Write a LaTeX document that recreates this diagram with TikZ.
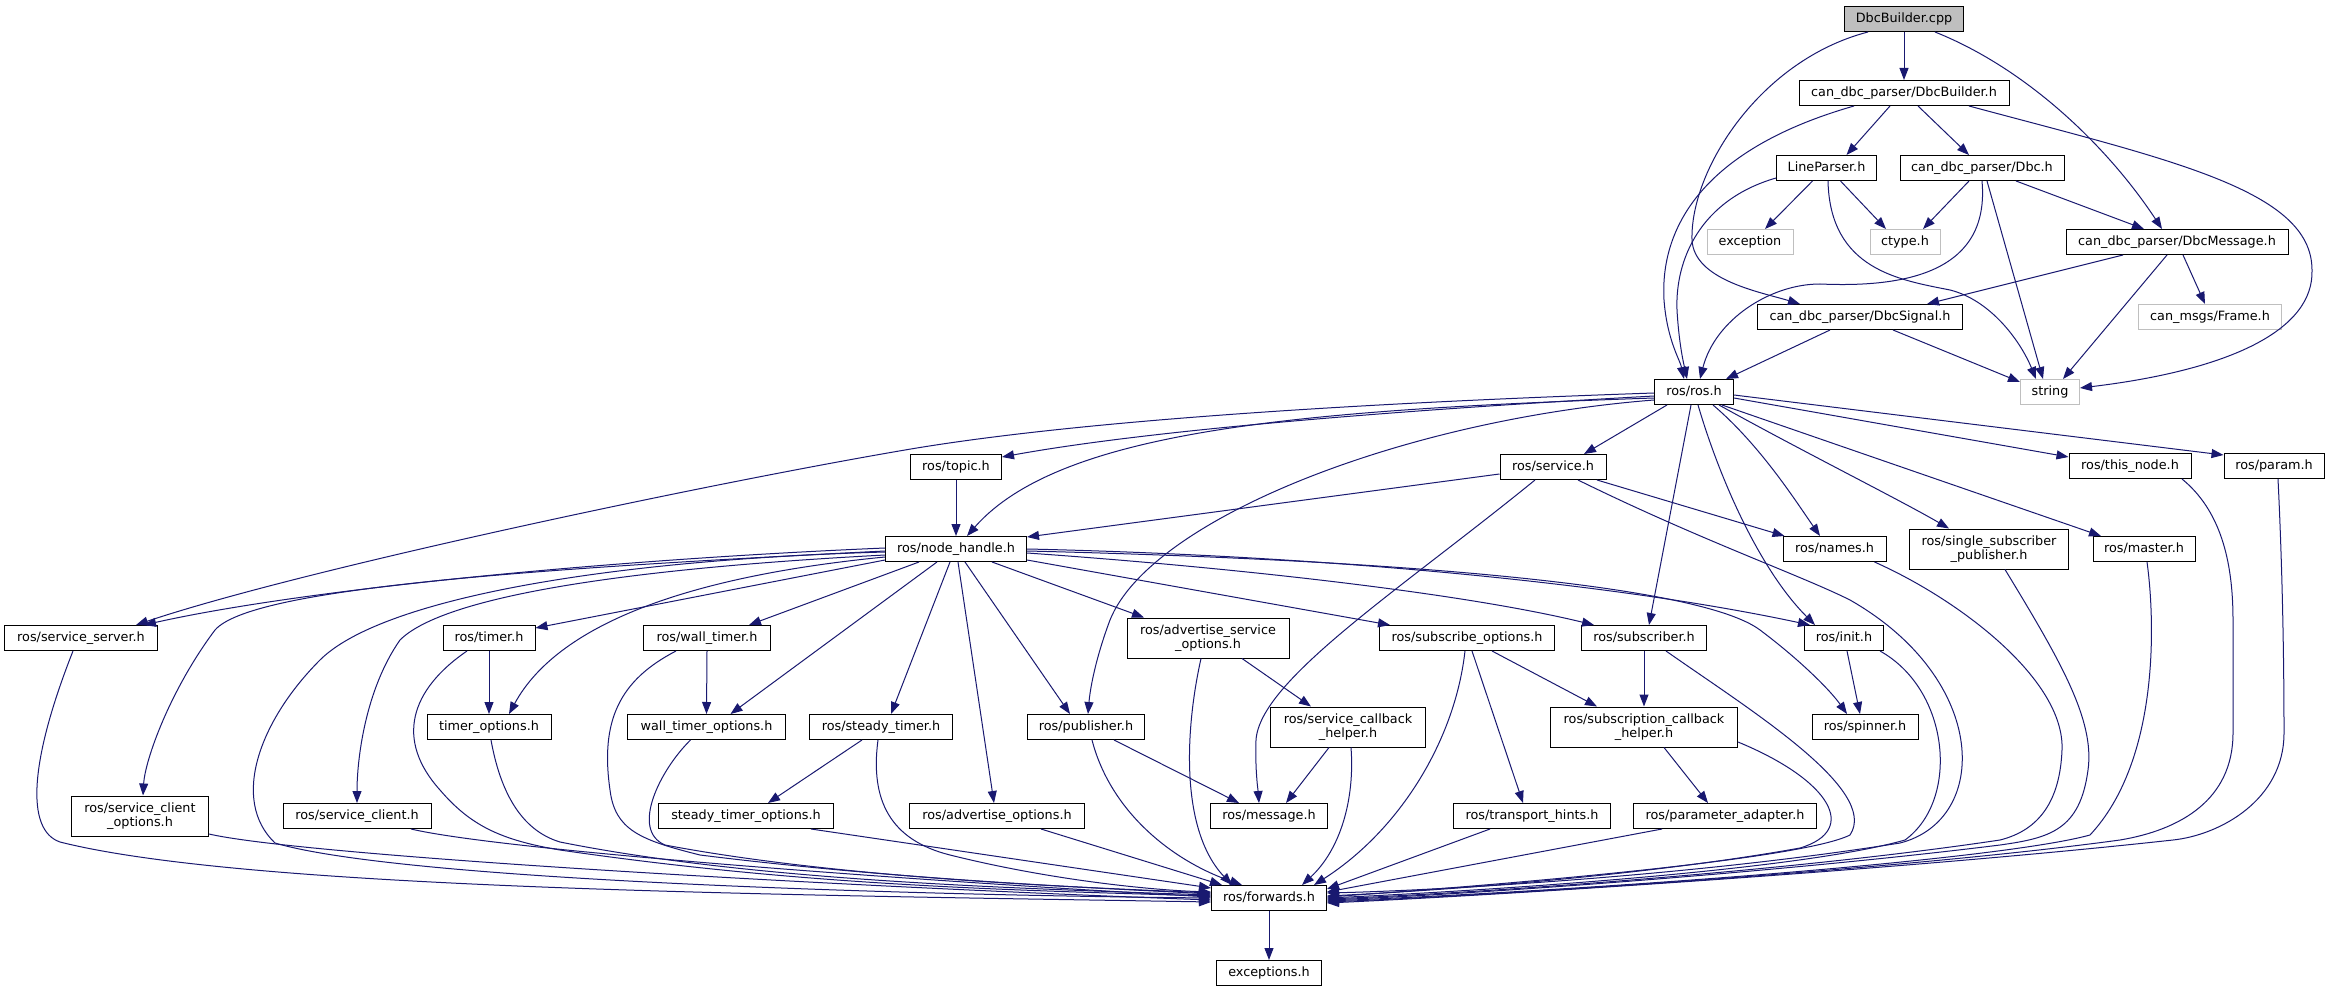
\documentclass[tikz,border=0pt]{standalone}
\usepackage{fontspec}
\setmainfont{DejaVu Sans}
\usetikzlibrary{arrows.meta}
\definecolor{edgec}{HTML}{191970}
\definecolor{graybd}{HTML}{BFBFBF}
\definecolor{cppfill}{HTML}{BFBFBF}
\newcommand{\nf}{\fontsize{12.8pt}{14.7pt}\selectfont}
\begin{document}
\begin{tikzpicture}[x=1pt,y=-1pt,
  base/.style={draw=black, line width=1pt, fill=white, inner sep=0pt, font=\nf},
  one/.style={base, minimum height=25pt, text height=9.6pt, text depth=2.6pt},
  two/.style={base, minimum height=40pt, align=center},
  grey/.style={one, draw=graybd},
  e/.style={draw=edgec, line width=1pt, -{Triangle[length=12pt,width=9pt]}}
]
\fill[white] (0,0) rectangle (2330,992);
\useasboundingbox (0,0) rectangle (2330,992);

% nodes
\node[one, fill=cppfill, minimum width=119pt] (cpp) at (1904,19) {DbcBuilder.cpp};
\node[one, minimum width=210pt] (dbh) at (1904,93) {can\_dbc\_parser/DbcBuilder.h};
\node[one, minimum width=100pt] (lp) at (1826.5,168) {LineParser.h};
\node[one, minimum width=164pt] (dbc) at (1982,168) {can\_dbc\_parser/Dbc.h};
\node[grey, minimum width=86pt] (exc) at (1750,242) {exception};
\node[grey, minimum width=70pt] (ctype) at (1905,242) {ctype.h};
\node[one, minimum width=222pt] (msg) at (2177,242) {can\_dbc\_parser/DbcMessage.h};
\node[one, minimum width=205pt] (sig) at (1860,317) {can\_dbc\_parser/DbcSignal.h};
\node[grey, minimum width=143pt] (frame) at (2210,317) {can\_msgs/Frame.h};
\node[grey, minimum width=59pt] (str) at (2050,392) {string};
\node[one, minimum width=79pt] (ros) at (1694,392) {ros/ros.h};
\node[one, minimum width=91pt] (topic) at (956,467) {ros/topic.h};
\node[one, minimum width=106pt] (service) at (1553,467) {ros/service.h};
\node[one, minimum width=122pt] (thisnode) at (2130,466) {ros/this\_node.h};
\node[one, minimum width=100pt] (param) at (2274,466) {ros/param.h};
\node[one, minimum width=141pt] (nh) at (956,549) {ros/node\_handle.h};
\node[one, minimum width=103pt] (names) at (1834.5,549) {ros/names.h};
\node[two, minimum width=159pt] (ssp) at (1989,549) {ros/single\_subscriber\\\_publisher.h};
\node[one, minimum width=102pt] (master) at (2144,549) {ros/master.h};
\node[one, minimum width=153pt] (ss) at (81,638) {ros/service\_server.h};
\node[one, minimum width=92pt] (timer) at (489,638) {ros/timer.h};
\node[one, minimum width=127pt] (wt) at (707,638) {ros/wall\_timer.h};
\node[two, minimum width=162pt] (aso) at (1208,638) {ros/advertise\_service\\\_options.h};
\node[one, minimum width=175pt] (so) at (1467,638) {ros/subscribe\_options.h};
\node[one, minimum width=125pt] (sub) at (1644,638) {ros/subscriber.h};
\node[one, minimum width=79pt] (init) at (1844,638) {ros/init.h};
\node[one, minimum width=124pt] (to) at (489,727) {timer\_options.h};
\node[one, minimum width=158pt] (wto) at (706.5,727) {wall\_timer\_options.h};
\node[one, minimum width=143pt] (st) at (881,727) {ros/steady\_timer.h};
\node[one, minimum width=117pt] (pub) at (1086,727) {ros/publisher.h};
\node[two, minimum width=155pt] (sch) at (1348,727) {ros/service\_callback\\\_helper.h};
\node[two, minimum width=187pt] (sbch) at (1644,727) {ros/subscription\_callback\\\_helper.h};
\node[one, minimum width=106pt] (spin) at (1865,727) {ros/spinner.h};
\node[two, minimum width=137pt] (sco) at (140,816) {ros/service\_client\\\_options.h};
\node[one, minimum width=148pt] (sc) at (357,816) {ros/service\_client.h};
\node[one, minimum width=175pt] (sto) at (746,816) {steady\_timer\_options.h};
\node[one, minimum width=175pt] (ao) at (997,816) {ros/advertise\_options.h};
\node[one, minimum width=117pt] (message) at (1269,816) {ros/message.h};
\node[one, minimum width=157pt] (th) at (1532,816) {ros/transport\_hints.h};
\node[one, minimum width=183pt] (pa) at (1725,816) {ros/parameter\_adapter.h};
\node[one, minimum width=115pt] (fwd) at (1269,898) {ros/forwards.h};
\node[one, minimum width=105pt] (exs) at (1269,973) {exceptions.h};

% top part
\draw[e] (cpp.south) -- (dbh.north);
\draw[e] ([xshift=-36]cpp.south) .. controls (1760,60) and (1690,170) .. (1692,240) .. controls (1694,280) and (1760,292) .. ([xshift=-60]sig.north);
\draw[e] ([xshift=31]cpp.south) .. controls (2030,70) and (2110,150) .. ([xshift=-15]msg.north);
\draw[e] ([xshift=-14]dbh.south) -- ([xshift=20]lp.north);
\draw[e] ([xshift=14]dbh.south) -- ([xshift=-13]dbc.north);
\draw[e] ([xshift=-50]dbh.south) .. controls (1700,150) and (1660,230) .. (1664,300) .. controls (1667,340) and (1680,360) .. ([xshift=-10]ros.north);
\draw[e] ([xshift=65]dbh.south) .. controls (2170,160) and (2312,190) .. (2312,270) .. controls (2314,330) and (2230,370) .. ([yshift=4]str.east);
\draw[e] ([xshift=-14]lp.south) -- ([xshift=15]exc.north);
\draw[e] ([xshift=14]lp.south) -- ([xshift=-19]ctype.north);
\draw[e] ([yshift=-10]lp.west) .. controls (1700,200) and (1675,260) .. (1677,310) .. controls (1679,345) and (1684,365) .. ([xshift=-7]ros.north);
\draw[e] ([xshift=1.5]lp.south) .. controls (1830,270) and (1900,280) .. (1950,290) .. controls (1990,300) and (2020,340) .. ([xshift=-14]str.north);
\draw[e] ([xshift=-13]dbc.south) -- ([xshift=18]ctype.north);
\draw[e] ([xshift=34]dbc.south) -- ([xshift=-33]msg.north);
\draw[e] (dbc.south) .. controls (1990,270) and (1910,288) .. (1820,284) .. controls (1770,284) and (1715,320) .. ([xshift=6]ros.north);
\draw[e] ([xshift=5]dbc.south) -- ([xshift=-7]str.north);
\draw[e] ([xshift=-54]msg.south) -- ([xshift=67]sig.north);
\draw[e] ([xshift=-10]msg.south) -- ([xshift=13]str.north);
\draw[e] ([xshift=6]msg.south) -- ([xshift=-5]frame.north);
\draw[e] ([xshift=-30]sig.south) -- ([xshift=32]ros.north);
\draw[e] ([xshift=33]sig.south) -- ([yshift=10]str.west);

% ros/ros.h
\draw[e] ([yshift=-4]ros.west) .. controls (1400,410) and (1150,430) .. ([yshift=10]topic.east);
\draw[e] ([yshift=-6]ros.west) .. controls (1300,410) and (1060,430) .. ([xshift=11]nh.north);
\draw[e] ([yshift=-1]ros.west) .. controls (1300,405) and (1050,425) .. (905,450) .. controls (700,485) and (300,570) .. ([xshift=55]ss.north);
\draw[e] ([xshift=-27]ros.south) -- ([xshift=31]service.north);
\draw[e] ([yshift=-8]ros.west) .. controls (1400,420) and (1150,520) .. (1110,620) .. controls (1095,660) and (1090,690) .. ([xshift=2]pub.north);
\draw[e] ([xshift=-3]ros.south) -- ([xshift=5]sub.north);
\draw[e] ([xshift=4]ros.south) .. controls (1720,480) and (1760,570) .. ([xshift=-29]init.north);
\draw[e] ([xshift=19]ros.south) .. controls (1760,445) and (1795,500) .. ([xshift=-14.5]names.north);
\draw[e] ([xshift=25]ros.south) .. controls (1800,450) and (1900,500) .. ([xshift=-40]ssp.north);
\draw[e] ([xshift=28]ros.south) -- ([xshift=-43]master.north);
\draw[e] ([yshift=-6]ros.east) -- ([yshift=9]thisnode.west);
\draw[e] ([yshift=-3]ros.east) -- ([yshift=11]param.west);

% ros/service.h
\draw[e] ([yshift=-7]service.west) -- ([yshift=12]nh.east);
\draw[e] ([xshift=44]service.south) -- ([xshift=-50]names.north);
\draw[e] ([xshift=-18]service.south) .. controls (1400,590) and (1260,680) .. (1256,740) .. controls (1255,770) and (1258,790) .. ([xshift=-10]message.north);
\draw[e] ([xshift=25]service.south) .. controls (1700,540) and (1800,575) .. (1850,600) .. controls (1990,680) and (1990,820) .. (1900,843) .. controls (1700,875) and (1450,890) .. ([yshift=5]fwd.east);

% topic
\draw[e] (topic.south) -- (nh.north);

% ros/node_handle.h
\draw[e] ([yshift=1]nh.west) .. controls (600,560) and (300,590) .. ([xshift=63]ss.north);
\draw[e] ([yshift=-2]nh.west) .. controls (500,570) and (250,590) .. (215,630) .. controls (170,690) and (145,760) .. ([xshift=3]sco.north);
\draw[e] ([yshift=-6]nh.west) .. controls (600,570) and (440,600) .. (400,640) .. controls (365,690) and (357,760) .. (sc.north);
\draw[e] ([yshift=-11]nh.west) -- ([yshift=10]timer.east);
\draw[e] ([yshift=-8]nh.west) .. controls (700,575) and (560,620) .. ([xshift=20]to.north);
\draw[e] ([yshift=-3]nh.west) .. controls (600,560) and (380,600) .. (320,660) .. controls (260,720) and (230,800) .. (275,843) .. controls (400,880) and (900,895) .. (fwd.west);
\draw[e] ([xshift=-37]nh.south) -- ([xshift=42]wt.north);
\draw[e] ([xshift=-19]nh.south) -- ([xshift=24]wto.north);
\draw[e] ([xshift=-6]nh.south) -- ([xshift=10]st.north);
\draw[e] ([xshift=2]nh.south) -- ([xshift=-3]ao.north);
\draw[e] ([xshift=9]nh.south) -- ([xshift=-16]pub.north);
\draw[e] ([xshift=36]nh.south) -- ([xshift=-64]aso.north);
\draw[e] ([yshift=-11]nh.east) -- ([xshift=-77]so.north);
\draw[e] ([yshift=-4]nh.east) .. controls (1200,565) and (1450,590) .. ([xshift=-50]sub.north);
\draw[e] (nh.east) .. controls (1300,555) and (1600,580) .. ([xshift=-34]init.north);
\draw[e] ([yshift=-2]nh.east) .. controls (1400,560) and (1700,585) .. (1760,630) .. controls (1800,660) and (1830,690) .. ([xshift=-18]spin.north);

% timers
\draw[e] (wt.south) -- (wto.north);
\draw[e] ([xshift=-31]wt.south) .. controls (620,680) and (600,720) .. (610,790) .. controls (615,830) and (640,840) .. (700,855) .. controls (900,880) and (1100,888) .. ([yshift=4]fwd.west);
\draw[e] (timer.south) -- (to.north);
\draw[e] ([xshift=-22]timer.south) .. controls (410,690) and (395,740) .. (440,790) .. controls (470,825) and (500,840) .. (560,850) .. controls (800,885) and (1000,890) .. ([yshift=2]fwd.west);
\draw[e] ([xshift=2]to.south) .. controls (500,790) and (520,830) .. (560,842) .. controls (750,880) and (1000,888) .. ([yshift=3]fwd.west);
\draw[e] ([xshift=-16]wto.south) .. controls (660,770) and (630,830) .. (665,845) .. controls (850,880) and (1100,888) .. ([yshift=5]fwd.west);
\draw[e] ([xshift=-19]st.south) -- ([xshift=22]sto.north);
\draw[e] ([xshift=-3]st.south) .. controls (870,800) and (890,840) .. (950,855) .. controls (1050,880) and (1150,890) .. ([yshift=6]fwd.west);
\draw[e] ([xshift=65]sto.south) -- ([yshift=10]fwd.west);

% left column
\draw[e] ([xshift=-8]ss.south) .. controls (30,760) and (25,830) .. (60,842) .. controls (250,890) and (800,895) .. ([yshift=-4]fwd.west);
\draw[e] ([yshift=-18]sco.east) .. controls (300,855) and (800,885) .. ([yshift=-2]fwd.west);
\draw[e] ([xshift=54]sc.south) .. controls (500,850) and (900,880) .. ([yshift=1]fwd.west);

% middle
\draw[e] ([xshift=44]ao.south) -- ([xshift=-47]fwd.north);
\draw[e] ([xshift=6]pub.south) .. controls (1110,810) and (1170,860) .. ([xshift=-27]fwd.north);
\draw[e] ([xshift=28]pub.south) -- ([xshift=-30]message.north);
\draw[e] ([xshift=-7]aso.south) .. controls (1185,730) and (1180,830) .. ([xshift=-37]fwd.north);
\draw[e] ([xshift=34]aso.south) -- ([xshift=-37]sch.north);
\draw[e] ([xshift=-19]sch.south) -- ([xshift=17]message.north);
\draw[e] ([xshift=3]sch.south) .. controls (1355,800) and (1340,850) .. ([xshift=33]fwd.north);
\draw[e] ([xshift=-2]so.south) .. controls (1455,740) and (1400,830) .. ([xshift=45]fwd.north);
\draw[e] ([xshift=5]so.south) -- ([xshift=-9]th.north);
\draw[e] ([xshift=25]so.south) -- ([xshift=-47]sbch.north);
\draw[e] ([xshift=-42]th.south) -- ([yshift=9]fwd.east);
\draw[e] ([xshift=-63]pa.south) -- ([yshift=6]fwd.east);
\draw[e] ([xshift=20]sbch.south) -- ([xshift=-17]pa.north);
\draw[e] ([yshift=-15]sbch.east) .. controls (1830,780) and (1860,830) .. (1800,848) .. controls (1650,875) and (1450,890) .. ([yshift=2]fwd.east);
\draw[e] (sub.south) -- (sbch.north);
\draw[e] ([xshift=22]sub.south) .. controls (1750,710) and (1880,790) .. (1850,835) .. controls (1800,860) and (1500,885) .. ([yshift=1]fwd.east);
\draw[e] ([xshift=3]init.south) -- ([xshift=-5]spin.north);
\draw[e] ([xshift=36]init.south) .. controls (1950,690) and (1960,800) .. (1905,840) .. controls (1800,870) and (1500,890) .. (fwd.east);

% right column
\draw[e] ([xshift=40]names.south) .. controls (1960,600) and (2065,680) .. (2062,750) .. controls (2060,800) and (2040,830) .. (2000,840) .. controls (1800,870) and (1500,892) .. ([yshift=-1]fwd.east);
\draw[e] ([xshift=16]ssp.south) .. controls (2060,660) and (2095,720) .. (2088,770) .. controls (2080,830) and (2050,838) .. (2000,845) .. controls (1800,870) and (1500,893) .. ([yshift=-2]fwd.east);
\draw[e] ([xshift=3]master.south) .. controls (2155,620) and (2160,760) .. (2090,835) .. controls (2000,860) and (1600,890) .. ([yshift=-3]fwd.east);
\draw[e] ([xshift=52]thisnode.south) .. controls (2220,510) and (2233,560) .. (2233,620) -- (2233,733) .. controls (2233,800) and (2180,830) .. (2120,840) .. controls (1900,870) and (1500,895) .. ([yshift=-4]fwd.east);
\draw[e] ([xshift=4]param.south) .. controls (2282,560) and (2284,650) .. (2284,733) .. controls (2284,800) and (2220,835) .. (2173,840) .. controls (1900,870) and (1500,895) .. ([yshift=-5]fwd.east);

\draw[e] (fwd.south) -- (exs.north);
\end{tikzpicture}
\end{document}
